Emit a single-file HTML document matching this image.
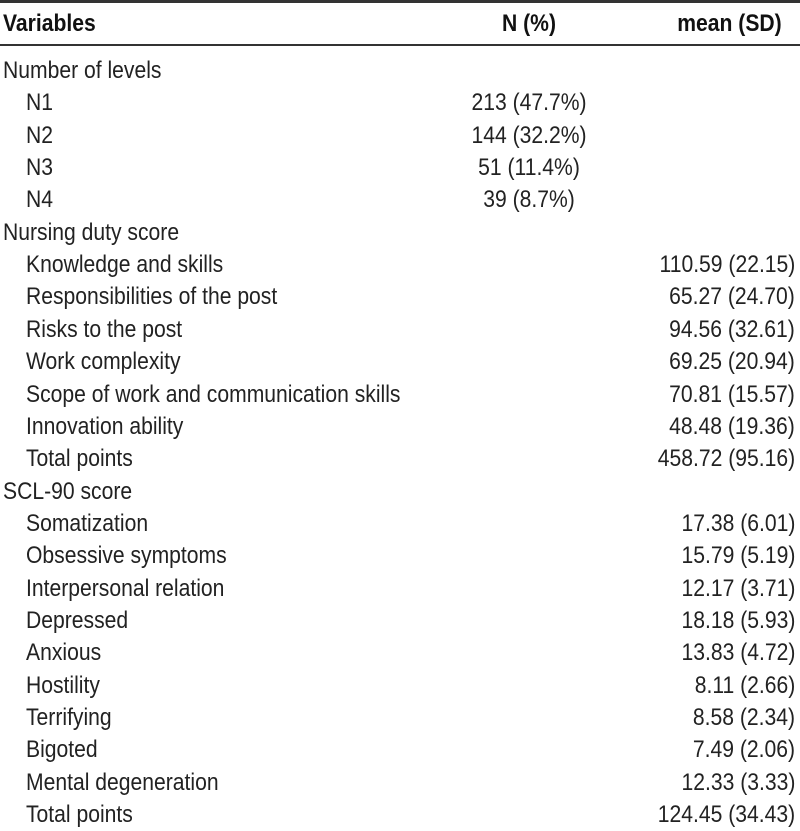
<!DOCTYPE html>
<html><head><meta charset="utf-8">
<style>
html,body{margin:0;padding:0;background:#fff;}
#t{position:relative;width:800px;height:831px;overflow:hidden;font-family:"Liberation Sans",sans-serif;font-size:24px;color:#222;}
.c{position:absolute;white-space:nowrap;line-height:28px;height:28px;}
.l{transform:scaleX(0.88);transform-origin:left center;}
.r{transform:scaleX(0.88);transform-origin:right center;}
.m{transform:translateX(-50%) scaleX(0.88);transform-origin:center center;}
.b{font-weight:bold;color:#111;}
.rule{position:absolute;left:0;width:800px;background:#333;}
</style></head><body>
<div id="t">
<div class="rule" style="top:0;height:3px"></div>
<div class="rule" style="top:44px;height:2px"></div>
<div class="c l b" style="left:3px;top:10px">Variables</div>
<div class="c m b" style="left:529px;top:10px">N (%)</div>
<div class="c r b" style="right:18px;top:10px">mean (SD)</div>
<div id="rows"></div>
</div>
<script>
const labels=["Number of levels","N1","N2","N3","N4","Nursing duty score","Knowledge and skills","Responsibilities of the post","Risks to the post","Work complexity","Scope of work and communication skills","Innovation ability","Total points","SCL-90 score","Somatization","Obsessive symptoms","Interpersonal relation","Depressed","Anxious","Hostility","Terrifying","Bigoted","Mental degeneration","Total points"];
const indent=[0,1,1,1,1,0,1,1,1,1,1,1,1,0,1,1,1,1,1,1,1,1,1,1];
const npct=["","213 (47.7%)","144 (32.2%)","51 (11.4%)","39 (8.7%)","","","","","","","","","","","","","","","","","","",""];
const meansd=["","","","","","","110.59 (22.15)","65.27 (24.70)","94.56 (32.61)","69.25 (20.94)","70.81 (15.57)","48.48 (19.36)","458.72 (95.16)","","17.38 (6.01)","15.79 (5.19)","12.17 (3.71)","18.18 (5.93)","13.83 (4.72)","8.11 (2.66)","8.58 (2.34)","7.49 (2.06)","12.33 (3.33)","124.45 (34.43)"];
const host=document.getElementById('t');
labels.forEach((lab,i)=>{
  const top=78+i*32.35-21;
  const a=document.createElement('div');
  a.className='c l';
  a.style.left=(indent[i]?26:3)+'px';a.style.top=top+'px';
  a.textContent=lab;
  
  
  host.appendChild(a);
  if(npct[i]){
    const n=document.createElement('div');
    n.className='c m';n.style.left='529px';n.style.top=top+'px';n.textContent=npct[i];
    
    
    host.appendChild(n);
  }
  if(meansd[i]){
    const m=document.createElement('div');
    m.className='c r';m.style.right='5px';m.style.top=top+'px';m.textContent=meansd[i];
    
    
    host.appendChild(m);
  }
});
</script>
</body></html>
